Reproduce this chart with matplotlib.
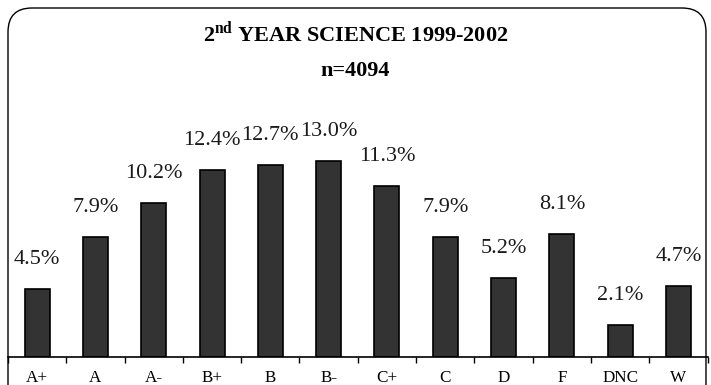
import matplotlib
matplotlib.use("Agg")
import matplotlib.pyplot as plt
from matplotlib.patches import FancyBboxPatch

# Grade distribution data
grades = ["A+", "A", "A-", "B+", "B", "B-", "C+", "C", "D", "F", "DNC", "W"]
percent = [4.5, 7.9, 10.2, 12.4, 12.7, 13.0, 11.3, 7.9, 5.2, 8.1, 2.1, 4.7]
title_main = "YEAR SCIENCE 1999-2002"
subtitle = "n=4094"

plt.rcParams["font.family"] = ["Liberation Serif", "DejaVu Serif"]
plt.rcParams["mathtext.fontset"] = "custom"
plt.rcParams["mathtext.rm"] = "Liberation Serif:bold"
plt.rcParams["mathtext.bf"] = "Liberation Serif:bold"

W, H, DPI = 711, 385, 100
fig = plt.figure(figsize=(W / DPI, H / DPI), dpi=DPI)

# Rounded frame around the whole chart (display pixel coordinates)
frame = FancyBboxPatch((8, -30), 698, 407,
                       boxstyle="round,pad=0,rounding_size=24",
                       transform=None, facecolor="none",
                       edgecolor="black", linewidth=1.0)
fig.add_artist(frame)

left_px, right_px = 8.0, 707.6
base_px = 385 - 356.5
top_px = 385 - 100
ax = fig.add_axes([left_px / W, base_px / H,
                   (right_px - left_px) / W, (top_px - base_px) / H])
ax.patch.set_alpha(0)

x = range(len(grades))
bars = ax.bar(x, percent, width=0.43, color="#333333",
              edgecolor="black", linewidth=1.2)

ax.set_xlim(-0.5, len(grades) - 0.5)
ax.set_ylim(0, (top_px - base_px) / 15.07)

for xi, v in zip(x, percent):
    ax.annotate(f"{v:.1f}%", (xi, v), xytext=(0, 18),
                textcoords="offset points", ha="center", va="baseline",
                fontsize=16, color="#1a1a1a")

for s in ("left", "right", "top"):
    ax.spines[s].set_visible(False)
ax.spines["bottom"].set_linewidth(1.2)
ax.set_yticks([])

ax.set_xticks(list(x))
ax.set_xticklabels(grades, fontsize=12.3)
ax.tick_params(axis="x", which="major", length=0, pad=9.5)
ax.set_xticks([i + 0.5 for i in range(-1, len(grades))], minor=True)
ax.tick_params(axis="x", which="minor", direction="out", length=4, width=1)

fig.text(0.5, 1 - 33.5 / H, r"2$^{\mathrm{nd}}$ " + title_main,
         ha="center", va="center", fontsize=16, fontweight="bold")
fig.text(0.5, 1 - 71 / H, subtitle, ha="center", va="center",
         fontsize=16, fontweight="bold")

fig.savefig("out.png", dpi=DPI)
